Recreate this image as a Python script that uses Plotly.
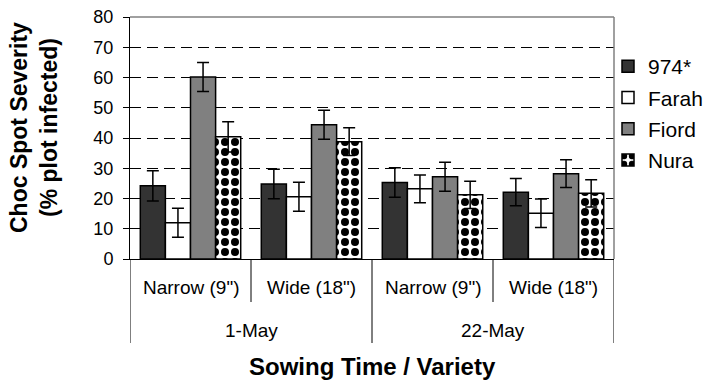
import plotly.graph_objects as go

# ---- data ----
sowing_dates = ["1-May", "1-May", "22-May", "22-May"]
row_spacings = ['Narrow (9")', 'Wide (18")', 'Narrow (9")', 'Wide (18")']
varieties = ["974*", "Farah", "Fiord", "Nura"]
severity = {
    "974*":  [24.2, 24.8, 25.3, 22.1],
    "Farah": [12.0, 20.6, 23.2, 15.1],
    "Fiord": [60.2, 44.4, 27.2, 28.2],
    "Nura":  [40.4, 38.8, 21.2, 21.7],
}
errors = {
    "974*":  [5.0, 4.9, 4.9, 4.5],
    "Farah": [4.8, 4.8, 4.6, 4.7],
    "Fiord": [4.8, 4.8, 4.8, 4.6],
    "Nura":  [5.0, 4.6, 4.5, 4.5],
}
y_ticks = [0, 10, 20, 30, 40, 50, 60, 70, 80]

# ---- styles ----
FONT = "Liberation Sans, Arial, sans-serif"
styles = {
    "974*":  dict(color="#333333"),
    "Farah": dict(color="#ffffff"),
    "Fiord": dict(color="#808080"),
    "Nura":  dict(color="#ffffff",
                  pattern=dict(shape=".", fgcolor="#000000", bgcolor="#ffffff",
                               size=10, solidity=0.5, fillmode="replace")),
}

keys = [f"{d} {s}" for d, s in zip(sowing_dates, row_spacings)]

fig = go.Figure()
for v in varieties:
    fig.add_trace(go.Bar(
        x=keys, y=severity[v], name=v, legendgroup=v,
        marker=dict(line=dict(color="#000000", width=1.5), **styles[v]),
        error_y=dict(type="data", array=errors[v], visible=True,
                     color="#000000", thickness=1.5, width=6),
    ))

# plot-area geometry helpers (paper coords)
T, B = 17, 259
H = B - T
def py(p):
    return (B - p) / H

shapes = []
annotations = []
n = len(keys)
# boundary lines below the axis
for i in range(n + 1):
    outer_break = (i == 0 or i == n or sowing_dates[i] != sowing_dates[i - 1])
    shapes.append(dict(type="line", xref="x", yref="paper",
                       x0=i - 0.5, x1=i - 0.5, y0=0,
                       y1=py(343) if outer_break else py(302),
                       line=dict(color="#000000", width=1)))
# inner labels
for i, s in enumerate(row_spacings):
    annotations.append(dict(x=i, y=py(287), xref="x", yref="paper", text=s,
                            showarrow=False, font=dict(size=19, color="#000000", family=FONT),
                            xanchor="center", yanchor="middle"))
# outer labels
seen = []
for d in sowing_dates:
    if d not in seen:
        seen.append(d)
for d in seen:
    idx = [i for i, dd in enumerate(sowing_dates) if dd == d]
    annotations.append(dict(x=sum(idx) / len(idx), y=py(330), xref="x", yref="paper", text=d,
                            showarrow=False, font=dict(size=19, color="#000000", family=FONT),
                            xanchor="center", yanchor="middle"))
# axis titles
annotations.append(dict(x=0.5, y=py(366), xref="paper", yref="paper",
                        text="<b>Sowing Time / Variety</b>", showarrow=False,
                        font=dict(size=24, color="#000000", family=FONT),
                        xanchor="center", yanchor="middle"))
annotations.append(dict(x=(34 - 130) / 484, y=py(128), xref="paper", yref="paper",
                        text="<b>Choc Spot Severity<br>(% plot infected)</b>", showarrow=False,
                        textangle=-90, font=dict(size=23, color="#000000", family=FONT),
                        xanchor="center", yanchor="middle"))
# top / right frame
shapes.append(dict(type="line", xref="paper", yref="paper", x0=0, x1=1, y0=1, y1=1,
                   line=dict(color="#808080", width=1.5)))
shapes.append(dict(type="line", xref="paper", yref="paper", x0=1, x1=1, y0=0, y1=1,
                   line=dict(color="#808080", width=1.5)))

fig.update_layout(
    width=712, height=387,
    margin=dict(l=130, r=98, t=T, b=387 - B, pad=0, autoexpand=False),
    paper_bgcolor="#ffffff", plot_bgcolor="#ffffff",
    barmode="group", bargap=0.17, bargroupgap=0,
    font=dict(family=FONT, color="#000000"),
    showlegend=True,
    legend=dict(x=(608 - 130) / 484, xanchor="left", y=py(46), yanchor="top",
                font=dict(size=21, color="#000000", family=FONT),
                bgcolor="rgba(0,0,0,0)", tracegroupgap=1, itemclick=False),
    shapes=shapes, annotations=annotations,
)
fig.update_xaxes(type="category", showticklabels=False, ticks="", showline=True,
                 linecolor="#000000", linewidth=1, showgrid=False,
                 range=[-0.5, n - 0.5], fixedrange=True)
fig.update_yaxes(range=[0, 80], tickvals=y_ticks, ticks="outside", ticklen=6,
                 tickcolor="#000000", tickwidth=1, showline=True, linecolor="#000000",
                 linewidth=1, showgrid=True, gridcolor="#000000", gridwidth=1,
                 griddash="11px,6px", zeroline=False, ticklabelstandoff=6,
                 tickfont=dict(size=18, color="#000000", family=FONT), fixedrange=True)

fig.write_html("out.html")
